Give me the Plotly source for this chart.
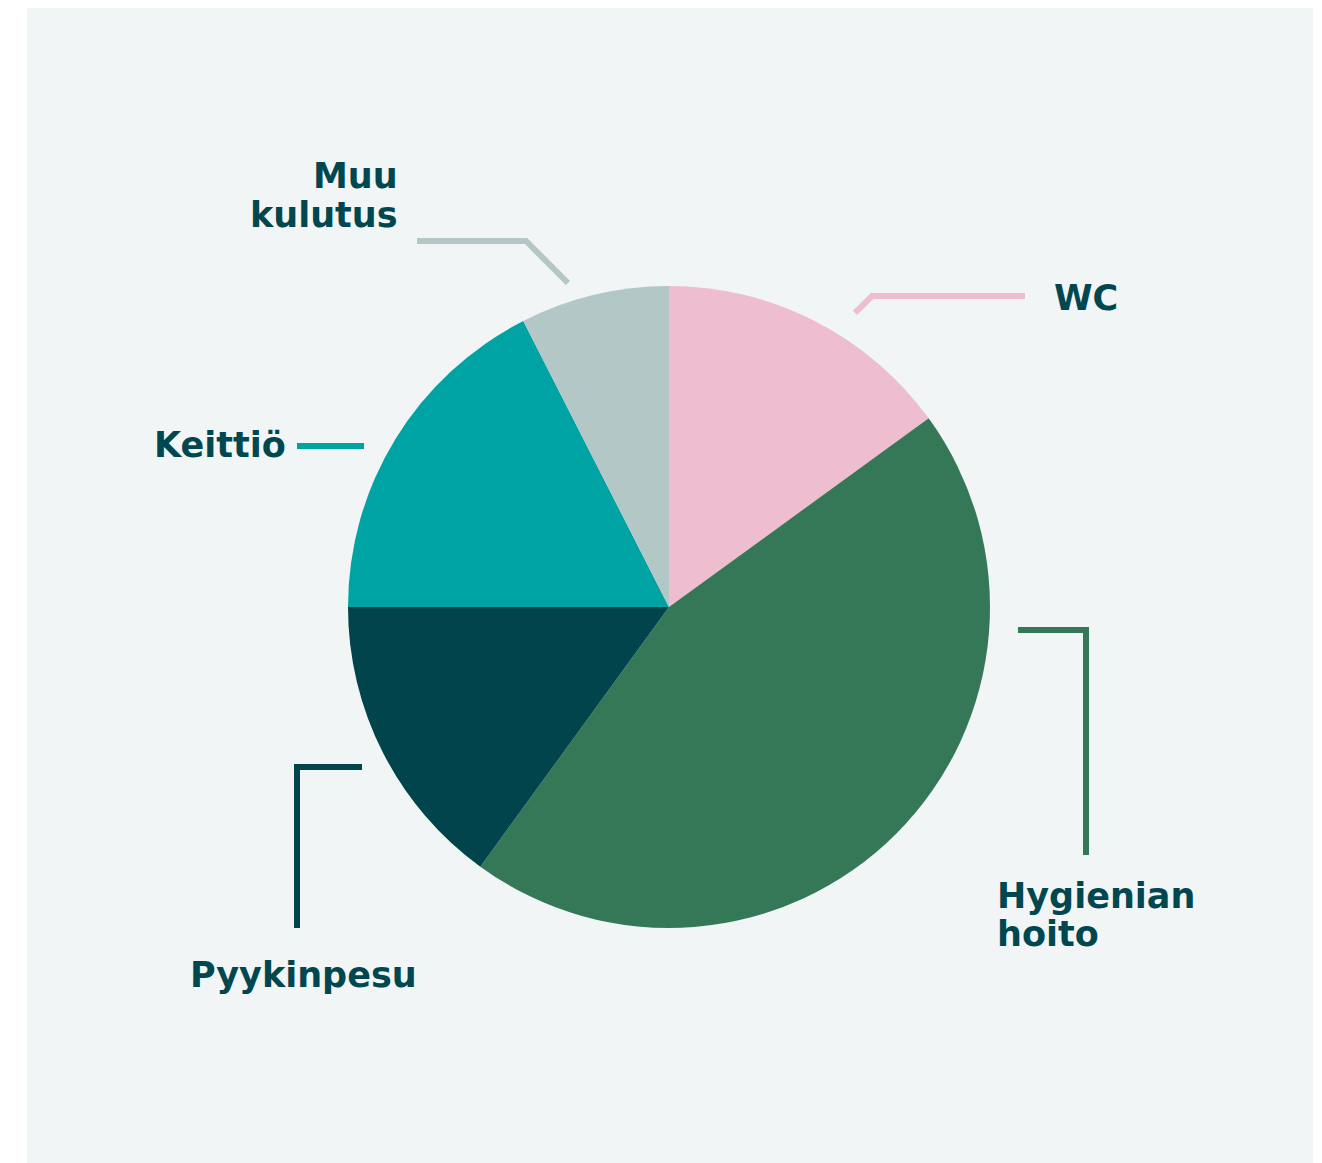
import plotly.graph_objects as go

W, H = 1322, 1163
OFF = 8  # page offset of the figure (body margin)

categories = ["WC", "Hygienian hoito", "Pyykinpesu", "Keittiö", "Muu kulutus"]
values = [15, 45, 15, 17.5, 7.5]
colors = ["#EFBDD0", "#357857", "#01444C", "#00A3A3", "#B3C7C7"]
label_lines = [["WC"], ["Hygienian", "hoito"], ["Pyykinpesu"], ["Keittiö"], ["Muu", "kulutus"]]

TEXT_COLOR = "#01474F"
BG = "#F1F5F6"


def px(x):
    return (x - OFF) / W


def py(y):
    return 1 - (y - OFF) / H


fig = go.Figure()
fig.add_trace(go.Pie(
    labels=categories,
    values=values,
    sort=False,
    direction="clockwise",
    rotation=0,
    marker=dict(colors=colors, line=dict(width=0)),
    textinfo="none",
    hoverinfo="label+percent",
    showlegend=False,
    domain=dict(x=[px(348), px(990)], y=[py(928), py(286)]),
))

shapes = [
    dict(type="rect", xref="paper", yref="paper", x0=px(27), x1=px(1313), y0=py(1175), y1=py(8),
         fillcolor=BG, line=dict(width=0), layer="below"),
]

leaders = [
    ([(855, 313), (872, 296), (1025, 296)], colors[0]),
    ([(1018, 630), (1086, 630), (1086, 855)], colors[1]),
    ([(362, 767), (297, 767), (297, 928)], colors[2]),
    ([(297, 446), (364, 446)], colors[3]),
    ([(417, 241), (526, 241), (568, 283)], colors[4]),
]
for pts, col in leaders:
    path = "M " + " L ".join(f"{px(x):.5f},{py(y):.5f}" for x, y in pts)
    shapes.append(dict(type="path", xref="paper", yref="paper", path=path,
                       line=dict(color=col, width=6)))

# (x anchor position, anchor side, centre y of each line)
label_pos = [
    (1053, "left", [298]),
    (996, "left", [896, 934]),
    (189, "left", [975]),
    (153, "left", [445]),
    (399, "right", [176, 215]),
]
annotations = []
for lines, (x, xa, ys) in zip(label_lines, label_pos):
    for txt, y in zip(lines, ys):
        annotations.append(dict(
            text=txt, x=px(x), y=py(y), xref="paper", yref="paper",
            xanchor=xa, yanchor="middle", showarrow=False, borderpad=0,
            font=dict(family="DejaVu Sans", size=35, color=TEXT_COLOR, weight="bold"),
        ))

fig.update_layout(
    width=W, height=H,
    margin=dict(l=0, r=0, t=0, b=0),
    paper_bgcolor="white",
    plot_bgcolor="white",
    shapes=shapes,
    annotations=annotations,
)

fig.write_html("out.html")
